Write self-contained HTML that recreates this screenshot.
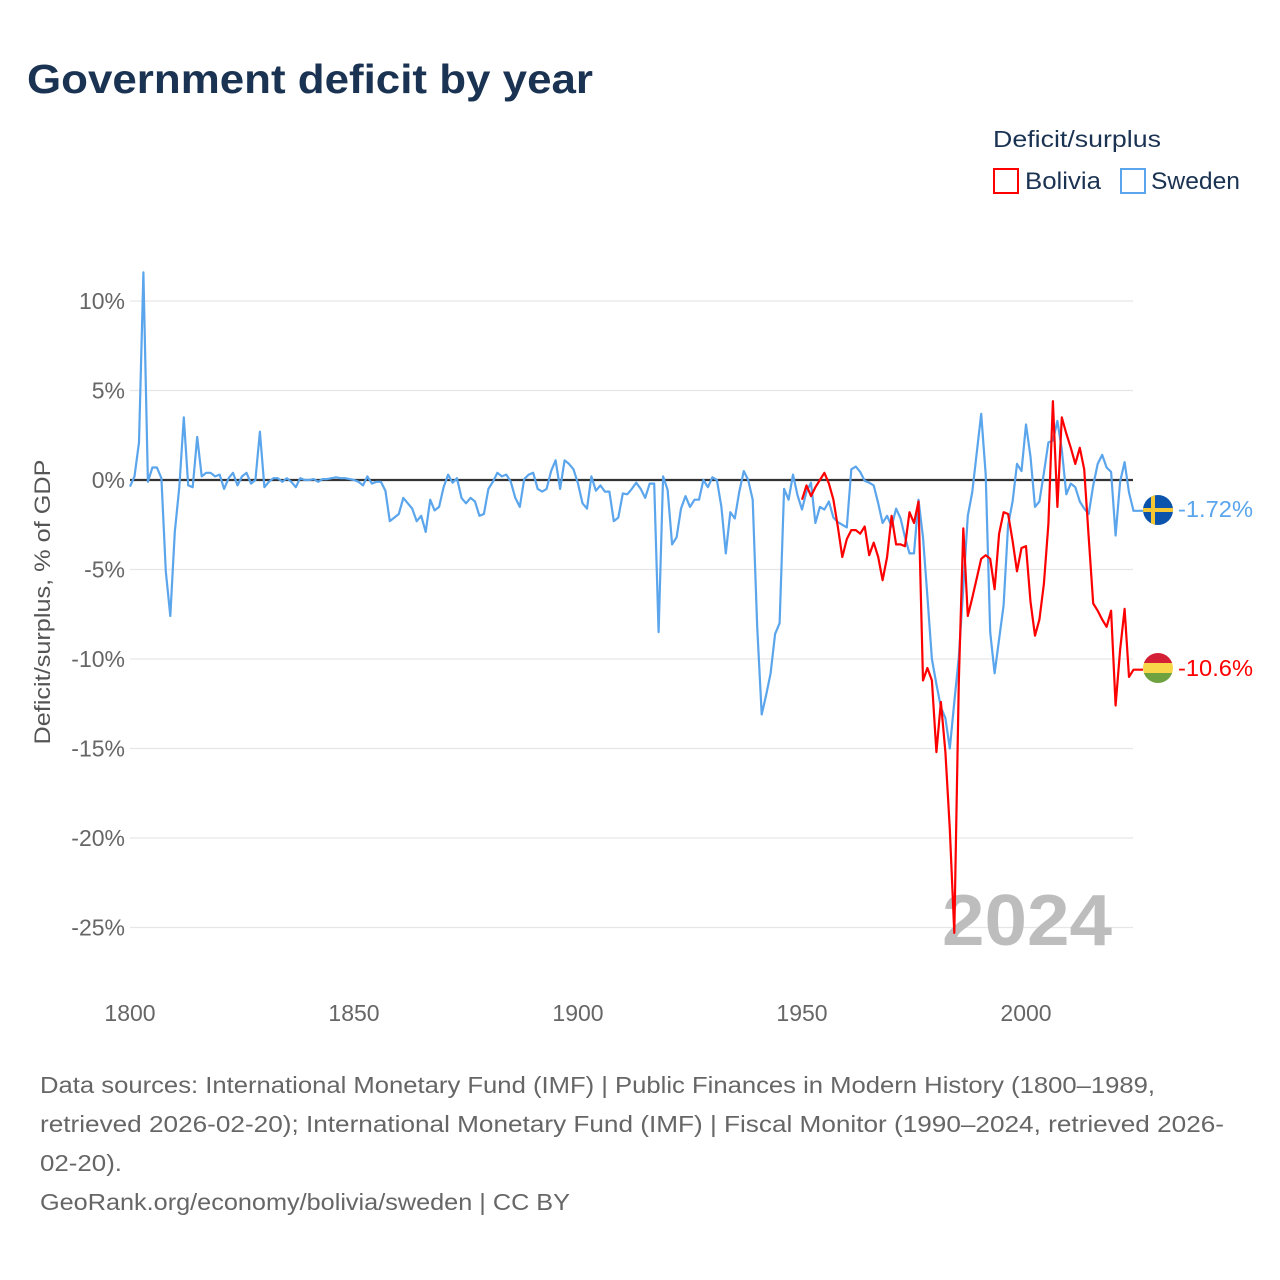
<!DOCTYPE html>
<html><head><meta charset="utf-8"><style>
body{margin:0;background:#fff;}
svg{display:block;font-family:"Liberation Sans",sans-serif;}
</style></head><body>
<svg id="chart" width="1280" height="1280" viewBox="0 0 1280 1280">
<text x="27" y="93" font-size="41" font-weight="bold" fill="#1b3352" textLength="566" lengthAdjust="spacingAndGlyphs">Government deficit by year</text>
<text x="993" y="147" font-size="23" fill="#1b3352" textLength="168" lengthAdjust="spacingAndGlyphs">Deficit/surplus</text>
<g><rect x="994" y="169" width="24" height="24" fill="#fff" stroke="#ff0000" stroke-width="2"/><text x="1025" y="189" font-size="24" fill="#1b3352" textLength="76" lengthAdjust="spacingAndGlyphs">Bolivia</text></g>
<g><rect x="1121" y="169" width="24" height="24" fill="#fff" stroke="#5aa5ec" stroke-width="2"/><text x="1151" y="189" font-size="24" fill="#1b3352" textLength="89" lengthAdjust="spacingAndGlyphs">Sweden</text></g>
<g id="grid"></g>
<g id="yticks"></g>
<g id="xticks"></g>
<text transform="translate(50,602) rotate(-90)" text-anchor="middle" font-size="22" fill="#555" textLength="285" lengthAdjust="spacingAndGlyphs">Deficit/surplus, % of GDP</text>
<text x="942" y="945" font-size="72" font-weight="bold" fill="#bdbdbd" textLength="170" lengthAdjust="spacingAndGlyphs">2024</text>
<g id="series"></g>
<g>
<clipPath id="cs"><circle cx="1158" cy="510" r="15"/></clipPath>
<g clip-path="url(#cs)"><rect x="1143" y="495" width="30" height="30" fill="#0b53ab"/><rect x="1143" y="508" width="30" height="4" fill="#f5c732"/><rect x="1151" y="495" width="4" height="30" fill="#f5c732"/></g></g>
<g>
<clipPath id="cb"><circle cx="1158" cy="668" r="15"/></clipPath>
<g clip-path="url(#cb)"><rect x="1143" y="653" width="30" height="10" fill="#d42035"/><rect x="1143" y="663" width="30" height="10" fill="#f8d64a"/><rect x="1143" y="673" width="30" height="10" fill="#6ea140"/></g></g>
<text x="1178" y="517" font-size="23" fill="#5aa5ec" textLength="75" lengthAdjust="spacingAndGlyphs">-1.72%</text>
<text x="1178" y="676" font-size="23" fill="#ff0000" textLength="75" lengthAdjust="spacingAndGlyphs">-10.6%</text>
<g font-size="23" fill="#666">
<text x="40" y="1093" textLength="1115" lengthAdjust="spacingAndGlyphs">Data sources: International Monetary Fund (IMF) | Public Finances in Modern History (1800–1989,</text>
<text x="40" y="1132" textLength="1184" lengthAdjust="spacingAndGlyphs">retrieved 2026-02-20); International Monetary Fund (IMF) | Fiscal Monitor (1990–2024, retrieved 2026-</text>
<text x="40" y="1171" textLength="82" lengthAdjust="spacingAndGlyphs">02-20).</text>
<text x="40" y="1210" textLength="530" lengthAdjust="spacingAndGlyphs">GeoRank.org/economy/bolivia/sweden | CC BY</text>
</g>
</svg>
<script>
const yTicks=[10,5,0,-5,-10,-15,-20,-25];
const xTicks=[1800,1850,1900,1950,2000];
const swedenStart=1800;
const swedenValues=[
-0.37,0.2,2.1,11.6,-0.1,0.7,0.7,0.1,-5.1,-7.6,
-2.9,-0.4,3.5,-0.3,-0.4,2.4,0.2,0.4,0.4,0.2,
0.3,-0.5,0.1,0.4,-0.3,0.2,0.4,-0.2,0,2.7,
-0.4,-0.1,0.1,0.1,-0.1,0.1,-0.1,-0.4,0.1,0,
0,0.05,-0.1,0.05,0.05,0.1,0.15,0.1,0.1,0.05,
0,-0.1,-0.3,0.2,-0.2,-0.1,-0.1,-0.6,-2.3,-2.1,
-1.9,-1.0,-1.3,-1.6,-2.3,-2.0,-2.9,-1.1,-1.7,-1.5,
-0.4,0.3,-0.15,0.1,-1.0,-1.3,-1.0,-1.2,-2.0,-1.9,
-0.5,-0.1,0.4,0.2,0.3,-0.1,-1.0,-1.5,0.05,0.3,
0.4,-0.5,-0.65,-0.5,0.5,1.1,-0.5,1.1,0.9,0.6,
-0.2,-1.3,-1.6,0.2,-0.6,-0.3,-0.65,-0.65,-2.3,-2.1,
-0.75,-0.8,-0.5,-0.15,-0.5,-1.0,-0.2,-0.2,-8.5,0.2,
-0.55,-3.6,-3.2,-1.6,-0.9,-1.5,-1.1,-1.1,0,-0.4,
0.15,0,-1.5,-4.1,-1.8,-2.15,-0.65,0.5,0,-1.1,
-8.2,-13.1,-12.0,-10.8,-8.6,-8.0,-0.5,-1.1,0.3,-0.85,
-1.65,-0.65,-0.15,-2.4,-1.5,-1.65,-1.2,-2.1,-2.35,-2.5,
-2.65,0.6,0.75,0.45,-0.05,-0.15,-0.3,-1.3,-2.4,-2.0,
-2.6,-1.6,-2.15,-3.2,-4.1,-4.1,-1.1,-3.2,-6.5,-10.0,
-11.4,-12.7,-13.3,-15.0,-12.4,-9.9,-6.0,-2.0,-0.7,1.5,
3.7,0.3,-8.5,-10.8,-8.9,-7.0,-2.5,-1.2,0.9,0.5,
3.1,1.3,-1.5,-1.2,0.4,2.1,2.2,3.3,1.7,-0.8,
-0.2,-0.4,-1.2,-1.6,-1.9,-0.3,0.9,1.4,0.7,0.45,
-3.1,-0.1,1.0,-0.7,-1.72];
const boliviaStart=1950;
const boliviaValues=[
-1.1,-0.3,-0.9,-0.4,0,0.4,-0.2,-1.1,-2.6,-4.3,
-3.3,-2.8,-2.8,-3.0,-2.6,-4.2,-3.5,-4.3,-5.6,-4.3,
-2.0,-3.6,-3.6,-3.7,-1.8,-2.4,-1.2,-11.2,-10.5,-11.2,
-15.2,-12.4,-15.2,-19.5,-25.3,-11.3,-2.7,-7.6,-6.6,-5.5,
-4.4,-4.2,-4.4,-6.1,-3.0,-1.8,-1.9,-3.4,-5.1,-3.8,
-3.7,-6.8,-8.7,-7.8,-5.8,-2.45,4.4,-1.5,3.5,2.6,
1.8,0.9,1.8,0.6,-3.2,-6.9,-7.3,-7.8,-8.2,-7.3,
-12.6,-9.5,-7.2,-11.0,-10.6];

const NS="http://www.w3.org/2000/svg";
function xS(yr){return 130+(yr-1800)*4.48;}
function yS(v){return 480-v*17.9;}
function mk(tag,attrs,parent){const e=document.createElementNS(NS,tag);for(const k in attrs)e.setAttribute(k,attrs[k]);parent.appendChild(e);return e;}
const grid=document.getElementById('grid'),yt=document.getElementById('yticks'),xt=document.getElementById('xticks'),ser=document.getElementById('series');
yTicks.forEach(v=>{
  const l=mk('line',{x1:130,x2:1133,y1:yS(v),y2:yS(v),stroke:'#e6e6e6','stroke-width':1.3},grid);
  
  
  const t=mk('text',{x:125,y:yS(v)+8,'text-anchor':'end','font-size':23,fill:'#666'},yt);
  t.textContent=v+'%';
  
  
});
xTicks.forEach(yr=>{
  const t=mk('text',{x:xS(yr),y:1021,'text-anchor':'middle','font-size':23,fill:'#666'},xt);
  t.textContent=yr;
  
  
});
function path(start,vals,color,name){
  let d='';
  vals.forEach((v,i)=>{d+=(i?'L':'M')+xS(start+i).toFixed(1)+','+yS(v).toFixed(1);});
  d+='L1143,'+yS(vals[vals.length-1]).toFixed(1);
  const p=mk('path',{d:d,fill:'none',stroke:color,'stroke-width':2.2,'stroke-linejoin':'round'},ser);
  
  
}
path(swedenStart,swedenValues,'#5aa5ec','sweden-line');
path(boliviaStart,boliviaValues,'#ff0000','bolivia-line');
const z=mk('line',{x1:130,x2:1133,y1:yS(0),y2:yS(0),stroke:'#333','stroke-width':2.2},ser);


ser.insertBefore(z,ser.firstChild);
</script>
</body></html>
